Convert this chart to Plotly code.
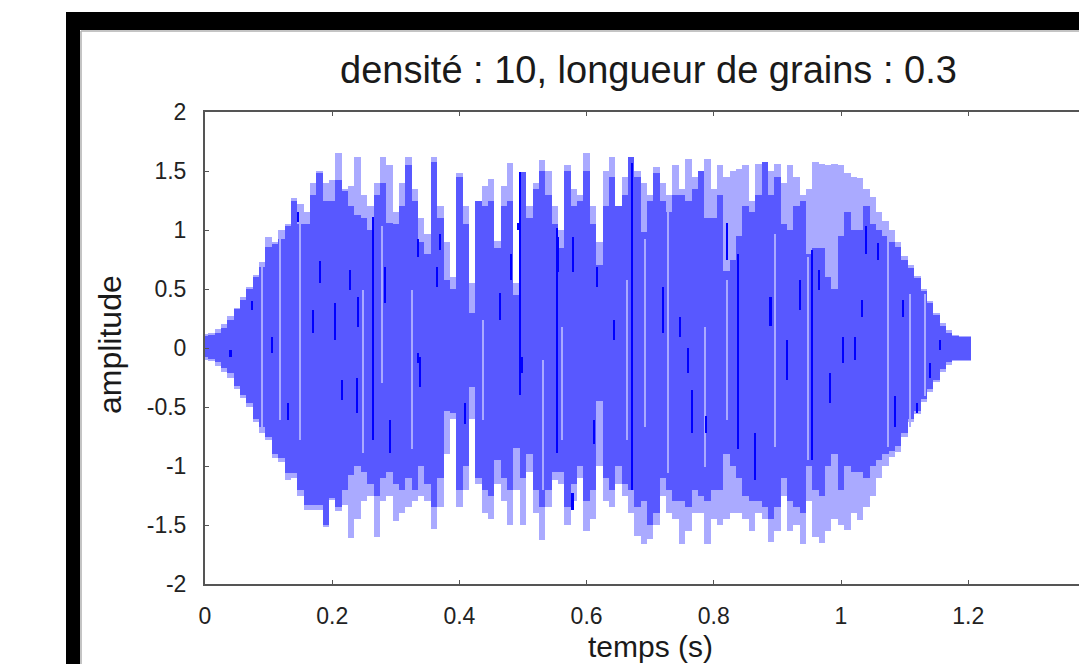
import plotly.graph_objects as go

# ---- data ----
t = [round(i * 0.01, 2) for i in range(121)]

light_top = [0.12, 0.13, 0.16, 0.20, 0.27, 0.34, 0.43, 0.52, 0.62, 0.73,
             0.94, 0.90, 1.00, 1.05, 1.27, 1.22, 1.15, 1.40, 1.50, 1.40,
             1.42, 1.65, 1.35, 1.37, 1.62, 1.30, 1.20, 1.40, 1.62, 1.55,
             1.15, 1.40, 1.62, 1.35, 1.10, 0.97, 1.62, 1.20, 0.90, 0.60,
             1.48, 1.20, 0.55, 1.25, 1.37, 1.43, 0.91, 1.37, 1.57, 0.55,
             1.49, 1.20, 1.40, 1.59, 1.50, 1.20, 1.00, 1.55, 1.35, 1.30,
             1.65, 1.20, 0.90, 1.50, 1.62, 1.20, 1.45, 1.62, 1.50, 1.40,
             1.30, 1.53, 1.40, 1.30, 1.55, 1.35, 1.60, 1.45, 1.50, 1.60,
             1.35, 1.55, 1.45, 1.50, 1.52, 1.55, 1.25, 1.56, 1.58, 1.50,
             1.56, 1.40, 1.55, 1.45, 1.30, 1.35, 1.58, 1.56, 1.55, 1.56,
             1.55, 1.48, 1.45, 1.44, 1.35, 1.28, 1.15, 1.08, 1.00, 0.90,
             0.78, 0.70, 0.61, 0.50, 0.40, 0.30, 0.21, 0.15, 0.11, 0.10, 0.10]

mid_top = [0.10, 0.11, 0.13, 0.17, 0.24, 0.33, 0.41, 0.50, 0.60, 0.69,
           0.86, 0.88, 0.92, 1.03, 1.25, 1.05, 1.05, 1.30, 1.48, 1.25,
           1.25, 1.42, 1.33, 1.20, 1.13, 1.10, 1.00, 1.30, 1.40, 1.06,
           1.05, 1.20, 1.55, 1.25, 0.90, 0.80, 1.58, 1.10, 0.58, 0.50,
           1.45, 1.05, 0.30, 1.25, 1.20, 1.25, 0.85, 1.20, 1.25, 0.45,
           1.49, 1.10, 1.35, 1.50, 1.30, 1.05, 0.85, 1.50, 1.20, 1.25,
           1.50, 1.05, 0.70, 1.20, 1.45, 1.20, 1.30, 1.62, 1.45, 0.98,
           1.25, 1.48, 1.25, 1.15, 1.30, 1.30, 1.25, 1.35, 1.50, 1.10,
           1.10, 1.30, 0.65, 0.75, 0.95, 1.20, 1.15, 1.30, 1.58, 1.30,
           1.45, 1.05, 1.00, 1.20, 1.25, 0.80, 0.85, 0.85, 0.60, 0.50,
           0.95, 1.15, 1.00, 1.00, 1.20, 1.05, 1.00, 0.95, 0.90, 0.86,
           0.75, 0.68, 0.59, 0.48, 0.38, 0.28, 0.19, 0.13, 0.10, 0.09, 0.09]

mid_bottom = [-0.08, -0.09, -0.12, -0.17, -0.21, -0.32, -0.40, -0.47, -0.60, -0.67,
              -0.75, -0.90, -0.93, -1.06, -1.06, -1.20, -1.33, -1.33, -1.33, -1.50,
              -1.27, -1.35, -1.20, -1.08, -1.00, -1.05, -1.15, -1.25, -1.10, -1.05,
              -1.15, -1.20, -1.10, -1.20, -1.00, -1.15, -1.35, -1.10, -0.53, -0.55,
              -1.20, -1.00, -0.33, -1.10, -1.20, -1.25, -0.95, -1.10, -1.20, -0.85,
              -1.10, -0.90, -1.20, -1.35, -1.20, -1.05, -1.05, -1.35, -1.15, -1.00,
              -1.30, -1.20, -0.45, -1.10, -1.20, -1.00, -1.15, -1.20, -1.35, -1.30,
              -1.50, -1.40, -1.10, -1.20, -1.30, -1.30, -1.35, -1.20, -1.25, -1.30,
              -1.20, -1.20, -0.90, -1.00, -1.10, -1.25, -1.30, -1.30, -1.35, -1.45,
              -1.35, -1.10, -1.30, -1.35, -1.40, -1.00, -1.20, -1.25, -1.00, -0.90,
              -1.20, -1.00, -1.05, -1.05, -1.10, -1.00, -0.95, -0.90, -0.87, -0.83,
              -0.72, -0.60, -0.53, -0.43, -0.35, -0.27, -0.18, -0.12, -0.10, -0.10, -0.10]

light_bottom = [-0.10, -0.11, -0.15, -0.20, -0.25, -0.35, -0.42, -0.50, -0.63, -0.72,
                -0.78, -0.93, -0.97, -1.12, -1.10, -1.25, -1.37, -1.37, -1.37, -1.52,
                -1.29, -1.38, -1.33, -1.61, -1.45, -1.30, -1.25, -1.60, -1.30, -1.25,
                -1.47, -1.40, -1.35, -1.30, -1.25, -1.30, -1.53, -1.35, -0.90, -0.60,
                -1.35, -1.20, -0.60, -1.15, -1.40, -1.45, -1.15, -1.30, -1.50, -1.20,
                -1.50, -1.05, -1.40, -1.63, -1.35, -1.12, -1.15, -1.50, -1.30, -1.10,
                -1.55, -1.45, -1.00, -1.30, -1.35, -1.15, -1.25, -1.40, -1.59, -1.66,
                -1.62, -1.50, -1.25, -1.40, -1.45, -1.66, -1.55, -1.40, -1.40, -1.66,
                -1.45, -1.50, -1.45, -1.40, -1.40, -1.45, -1.55, -1.40, -1.45, -1.64,
                -1.55, -1.25, -1.55, -1.50, -1.66, -1.30, -1.60, -1.65, -1.55, -1.45,
                -1.50, -1.54, -1.40, -1.46, -1.35, -1.25, -1.10, -1.00, -0.92, -0.88,
                -0.75, -0.63, -0.56, -0.46, -0.37, -0.29, -0.20, -0.14, -0.11, -0.11, -0.11]

# thin light (partially covered) columns inside the waveform: time, upper, lower
stripe_t = [0.089, 0.118, 0.149, 0.249, 0.278, 0.325, 0.437, 0.531, 0.561, 0.663,
            0.692, 0.728, 0.786, 0.820, 0.896, 0.948, 1.074, 1.108, 1.132]
stripe_hi = [0.69, 0.92, 1.06, 0.49, 1.03, 0.49, 0.24, -0.10, 0.18, 0.58,
             0.92, 1.20, 0.18, 0.58, 0.97, 0.77, 1.03, 0.46, 0.46]
stripe_lo = [-0.69, -0.61, -0.78, -0.89, -0.30, -0.86, -0.61, -1.20, -0.78, -0.78,
             -0.67, -1.06, -1.01, -0.61, -0.84, -0.95, -0.84, -0.67, -0.41]

# darker (fully covered) streaks inside the waveform: time, upper, lower
dark_t = [0.264, 0.671, 0.838, 0.954, 0.553, 0.040, 0.074, 0.105, 0.130, 0.181,
          0.170, 0.146, 0.204, 0.228, 0.241, 0.215, 0.239, 0.283, 0.291, 0.335,
          0.338, 0.365, 0.369, 0.335, 0.409, 0.464, 0.481, 0.492, 0.499, 0.555,
          0.578, 0.579, 0.616, 0.643, 0.612, 0.720, 0.747, 0.759, 0.766, 0.788,
          0.821, 0.865, 0.889, 0.915, 0.936, 0.965, 0.983, 1.003, 1.022, 1.039,
          1.033, 1.058, 1.085, 1.097, 1.120, 1.140, 1.156, 0.495]
dark_hi = [1.11, 1.57, 0.80, 0.83, 1.02, -0.02, 0.40, 0.09, -0.47, 0.74,
           0.32, 1.15, 0.38, 0.66, 0.43, -0.27, -0.25, 0.69, -0.61, -0.04,
           -0.08, 0.69, 0.97, 0.92, -0.47, 0.47, 0.80, 1.06, -0.08, 0.94,
           -1.23, 0.94, 0.69, 0.24, -0.61, 0.52, 0.26, 0.00, -0.36, -0.58,
           1.06, -0.72, 0.43, 0.07, 0.58, 0.66, -0.21, 0.09, 0.09, 1.03,
           0.41, 0.89, -0.41, 0.41, -0.47, -0.13, 0.07, 1.49]
dark_lo = [-0.78, -1.20, -0.86, -0.95, -0.89, -0.08, 0.32, -0.04, -0.61, 0.55,
           0.13, 1.07, 0.07, 0.49, 0.18, -0.44, -0.55, 0.38, -0.89, -0.13,
           -0.33, 0.52, 0.83, 0.77, -0.64, 0.24, 0.58, 1.00, -0.21, 0.64,
           -1.37, 0.64, 0.52, 0.07, -0.81, 0.13, 0.09, -0.21, -0.72, -0.72,
           0.75, -1.12, 0.19, -0.27, 0.32, 0.49, -0.47, -0.13, -0.10, 0.80,
           0.26, 0.75, -0.67, 0.26, -0.55, -0.25, -0.02, -0.40]

y_tick_vals = [-2, -1.5, -1, -0.5, 0, 0.5, 1, 1.5, 2]
y_tick_text = ["-2", "-1.5", "-1", "-0.5", "0", "0.5", "1", "1.5", "2"]
x_tick_vals = [0, 0.2, 0.4, 0.6, 0.8, 1.0, 1.2, 1.4]
x_tick_text = ["0", "0.2", "0.4", "0.6", "0.8", "1", "1.2", "1.4"]

title_text = "densité : 10, longueur de grains : 0.3"
x_title = "temps (s)"
y_title = "amplitude"

# ---- layout geometry (pixels) ----
W, H = 1079, 664
L, T, B = 205, 112, 584
X_PER_UNIT = 636.0
x_max = (W - L) / X_PER_UNIT


def px(xp):
    return (xp - L) / (W - L)


def py(yp):
    return (B - yp) / (B - T)


LIGHT = "#aaaaff"
MID = "#5858ff"
DARK = "#0000ff"


def span_bar(xs, hi, lo, width, color):
    return go.Bar(x=xs, y=[a - b for a, b in zip(hi, lo)], base=lo, width=width,
                  marker=dict(color=color, line=dict(width=0)), hoverinfo="skip")


fig = go.Figure()
fig.add_trace(span_bar(t, light_top, light_bottom, 0.01, LIGHT))
fig.add_trace(span_bar(t, mid_top, mid_bottom, 0.01, MID))
fig.add_trace(span_bar(stripe_t, stripe_hi, stripe_lo, 0.0032, LIGHT))
fig.add_trace(span_bar(dark_t, dark_hi, dark_lo, 0.0035, DARK))

axis_common = dict(
    showgrid=False, zeroline=False, showline=True, linecolor="#555555", linewidth=2,
    ticks="inside", ticklen=4, tickwidth=1, tickcolor="#555555",
    tickfont=dict(family="Liberation Sans, Arial", size=23, color="#222222"),
)

fig.update_layout(
    width=W, height=H,
    margin=dict(l=L, r=0, t=T, b=H - B, pad=0),
    paper_bgcolor="white", plot_bgcolor="white",
    barmode="overlay", bargap=0, showlegend=False,
    xaxis=dict(range=[0, x_max], tickvals=x_tick_vals, ticktext=x_tick_text,
               mirror="ticks", ticklabelstandoff=10, **axis_common),
    yaxis=dict(range=[-2, 2], tickvals=y_tick_vals, ticktext=y_tick_text,
               mirror=False, ticklabelstandoff=12, **axis_common),
    font=dict(family="Liberation Sans, Arial", color="#222222"),
)

# frame (thick black border around the figure, clipped on the right/bottom)
fig.add_shape(type="rect", xref="paper", yref="paper",
              x0=px(66), x1=px(W + 10), y0=py(30), y1=py(12),
              fillcolor="black", line=dict(width=0), layer="above")
fig.add_shape(type="rect", xref="paper", yref="paper",
              x0=px(66), x1=px(80), y0=py(H + 10), y1=py(12),
              fillcolor="black", line=dict(width=0), layer="above")
fig.add_shape(type="line", xref="paper", yref="paper",
              x0=px(81), x1=px(W + 10), y0=py(31), y1=py(31),
              line=dict(color="#b0b0b0", width=1.5))
fig.add_shape(type="line", xref="paper", yref="paper",
              x0=px(81), x1=px(81), y0=py(H + 10), y1=py(31),
              line=dict(color="#b0b0b0", width=1.5))

fig.add_annotation(text=title_text, xref="paper", yref="paper",
                   x=px(648), y=py(70), xanchor="center", yanchor="middle",
                   showarrow=False, font=dict(size=38, color="#1a1a1a"))
fig.add_annotation(text=x_title, xref="paper", yref="paper",
                   x=px(650), y=py(646), xanchor="center", yanchor="middle",
                   showarrow=False, font=dict(size=30, color="#1a1a1a"))
fig.add_annotation(text=y_title, xref="paper", yref="paper",
                   x=px(110), y=py(345), xanchor="center", yanchor="middle",
                   textangle=-90, showarrow=False, font=dict(size=32, color="#1a1a1a"))

fig.write_html("out.html")
